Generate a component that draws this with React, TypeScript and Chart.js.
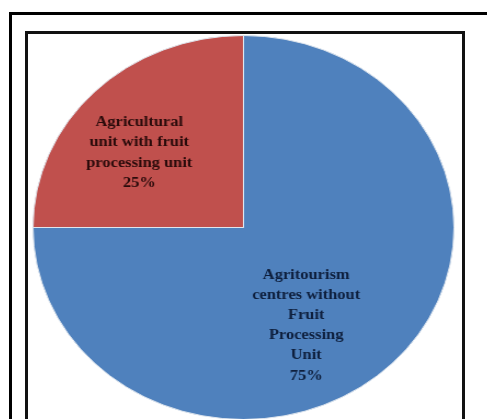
import React, { useEffect, useRef } from "react";
import { Chart, registerables } from "chart.js";

Chart.register(...registerables);

const categories = [
  "Agritourism centres without Fruit Processing Unit",
  "Agricultural unit with fruit processing unit",
];
const shares = [75, 25];
const sliceColors = ["#4F81BD", "#C0504D"];
const labelLines = [
  ["Agritourism", "centres without", "Fruit", "Processing", "Unit"],
  ["Agricultural", "unit with fruit", "processing unit"],
];
const labelColors = ["#0e1f3d", "#2a0b0b"];
// label placement relative to slice: angle shift (deg) from slice mid-angle, radius fraction
const labelAngleShift = [14.7, -6.8];
const labelRadiusFrac = [0.59, 0.63];

const sliceLabels = {
  id: "sliceLabels",
  afterDatasetsDraw(chart: any) {
    const ctx = chart.ctx;
    const meta = chart.getDatasetMeta(0);
    meta.data.forEach((arc: any, i: number) => {
      const { x, y, startAngle, endAngle, outerRadius } = arc.getProps(
        ["x", "y", "startAngle", "endAngle", "outerRadius"],
        true
      );
      const mid = (startAngle + endAngle) / 2 + (labelAngleShift[i] * Math.PI) / 180;
      const r = outerRadius * labelRadiusFrac[i];
      const cx = x + r * Math.cos(mid);
      const cy = y + r * Math.sin(mid);
      const lines = [...labelLines[i], `${shares[i]}%`];
      const lh = 20.2;
      ctx.save();
      ctx.font = "bold 15px 'Liberation Serif', 'Times New Roman', serif";
      ctx.fillStyle = labelColors[i];
      ctx.textAlign = "center";
      ctx.textBaseline = "middle";
      lines.forEach((ln, k) => {
        ctx.fillText(ln, cx, cy - ((lines.length - 1) / 2) * lh + k * lh);
      });
      ctx.restore();
    });
  },
};

export default function App() {
  const ref = useRef<HTMLCanvasElement>(null);
  useEffect(() => {
    if (!ref.current) return;
    const chart = new Chart(ref.current, {
      type: "pie",
      data: {
        labels: categories,
        datasets: [
          {
            data: shares,
            backgroundColor: sliceColors,
            borderColor: "#dfe6ee",
            borderWidth: 1,
          },
        ],
      },
      options: {
        responsive: false,
        animation: false,
        layout: { padding: 0 },
        plugins: {
          legend: { display: false },
          tooltip: { enabled: false },
        },
      },
      plugins: [sliceLabels],
    });
    return () => chart.destroy();
  }, []);

  return (
    <div
      style={{
        position: "fixed",
        left: 0,
        top: 0,
        width: 487,
        height: 419,
        background: "#fff",
        overflow: "hidden",
      }}
    >
      <div
        style={{
          position: "absolute",
          left: 9,
          top: 12,
          width: 600,
          height: 600,
          border: "3px solid #000",
          boxSizing: "border-box",
        }}
      />
      <div
        style={{
          position: "absolute",
          left: 25,
          top: 31,
          width: 440,
          height: 500,
          border: "3px solid #111",
          boxSizing: "border-box",
          background: "#fff",
        }}
      />
      <div
        style={{
          position: "absolute",
          left: 51,
          top: 35,
          width: 385,
          height: 385,
          transform: "scaleX(1.0964)",
          transformOrigin: "50% 50%",
        }}
      >
        <canvas ref={ref} width={385} height={385} style={{ width: 385, height: 385 }} />
      </div>
    </div>
  );
}
